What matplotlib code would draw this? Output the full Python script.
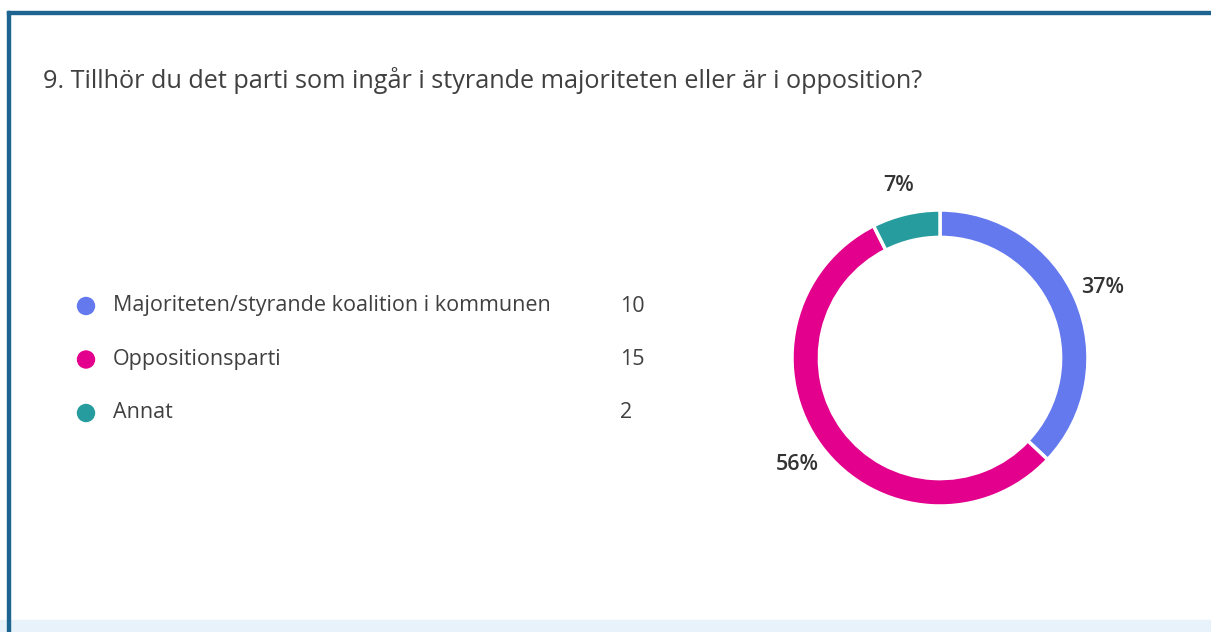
import matplotlib.pyplot as plt
from matplotlib.patches import Rectangle, Circle

plt.rcParams['font.family'] = ['Open Sans', 'DejaVu Sans']

title = "9. Tillhör du det parti som ingår i styrande majoriteten eller är i opposition?"
categories = ["Majoriteten/styrande koalition i kommunen", "Oppositionsparti", "Annat"]
counts = [10, 15, 2]
colors = ["#6479ee", "#e3008c", "#269c9f"]

W, H = 1211, 632
fig = plt.figure(figsize=(W / 100, H / 100), dpi=100)

# background axes in pixel coordinates (y down)
bg = fig.add_axes([0, 0, 1, 1])
bg.set_xlim(0, W)
bg.set_ylim(H, 0)
bg.axis('off')

# card frame
bg.add_patch(Rectangle((0, 620), W, 12, color="#e8f2fa", zorder=0))
bg.add_patch(Rectangle((7, 11), W, 2.5, color="#1d6590", zorder=2))
bg.add_patch(Rectangle((7, 11), 2.5, H, color="#1d6590", zorder=2))

bg.text(43, 80, title, fontsize=18.2, color="#404040", va='center', ha='left')

# legend
for i, (cat, n, c) in enumerate(zip(categories, counts, colors)):
    y = 306 + i * 53.5
    bg.add_patch(Circle((86, y), 8.5, color=c))
    bg.text(113, y, cat, fontsize=15.5, color="#404040", va='center', ha='left')
    bg.text(620, y, str(n), fontsize=15.5, color="#404040", va='center', ha='left')

# donut
cx, cy, r = 940, 358, 148
half = r * 1.25
ax = fig.add_axes([(cx - half) / W, (H - cy - half) / H, 2 * half / W, 2 * half / H])
wedges, _, pcts = ax.pie(
    counts, colors=colors, startangle=90, counterclock=False,
    autopct=lambda p: f"{round(p)}%", pctdistance=1.2,
    wedgeprops=dict(width=0.185, edgecolor='white', linewidth=2.5),
    textprops=dict(fontsize=15.5, color="#333333", fontweight='semibold'),
)
ax.set_xlim(-1.25, 1.25)
ax.set_ylim(-1.25, 1.25)
ax.set_aspect('equal')

fig.savefig("out.png", dpi=100)
